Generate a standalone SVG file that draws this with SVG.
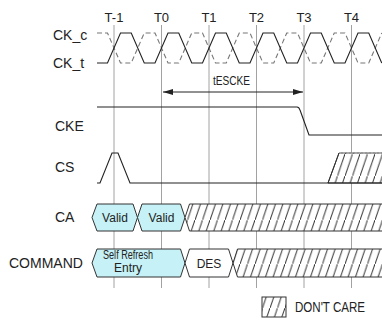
<svg xmlns="http://www.w3.org/2000/svg" width="382" height="320" viewBox="0 0 382 320">
<style>
.lbl{font-family:"Liberation Sans",Arial,sans-serif;font-size:14px;fill:#222}
.tl{font-family:"Liberation Sans",Arial,sans-serif;font-size:13px;fill:#222;text-anchor:middle}
.bx{font-family:"Liberation Sans",Arial,sans-serif;font-size:12px;fill:#222;text-anchor:middle}
.grid{stroke:#8a8a8a;stroke-width:0.8}
.sig{fill:none;stroke:#222;stroke-width:1.1}
.dash{fill:none;stroke:#777;stroke-width:1.1;stroke-dasharray:5,3}
.valid{fill:#c6f1f6;stroke:#333;stroke-width:1}
.white{fill:#fff;stroke:#333;stroke-width:1}
.hatch{fill:url(#h);stroke:#333;stroke-width:1}
</style>
<defs>
<pattern id="h" patternUnits="userSpaceOnUse" width="7.5" height="22">
<rect width="7.5" height="22" fill="#fff"/>
<line x1="0" y1="22" x2="7.5" y2="0" stroke="#333" stroke-width="1"/>
</pattern>
<marker id="ah" markerWidth="10" markerHeight="6" refX="10" refY="3" orient="auto-start-reverse" markerUnits="userSpaceOnUse">
<path d="M0,0 L10,3 L0,6 Z" fill="#222"/>
</marker>
</defs>

<g id="grid">
<line class="grid" x1="114" y1="25" x2="114" y2="288"/>
<line class="grid" x1="161.5" y1="25" x2="161.5" y2="288"/>
<line class="grid" x1="209" y1="25" x2="209" y2="288"/>
<line class="grid" x1="256.5" y1="25" x2="256.5" y2="288"/>
<line class="grid" x1="304" y1="25" x2="304" y2="288"/>
<line class="grid" x1="351.5" y1="25" x2="351.5" y2="288"/>
</g>

<g id="tick-labels">
<text class="tl" x="114" y="22">T-1</text>
<text class="tl" x="161.5" y="22">T0</text>
<text class="tl" x="209" y="22">T1</text>
<text class="tl" x="256.5" y="22">T2</text>
<text class="tl" x="304" y="22">T3</text>
<text class="tl" x="351.5" y="22">T4</text>
</g>

<g id="signal-labels">
<text class="lbl" x="53" y="40">CK_c</text>
<text class="lbl" x="53" y="68">CK_t</text>
<text class="lbl" x="55" y="131">CKE</text>
<text class="lbl" x="55" y="172">CS</text>
<text class="lbl" x="55" y="222">CA</text>
<text class="lbl" x="9" y="268">COMMAND</text>
</g>

<g id="clock">
<path class="dash" d="M97,33 H107.5 L120.5,63 H131.25 L144.25,33 H155 L168,63 H178.75 L191.75,33 H202.5 L215.5,63 H226.25 L239.25,33 H250 L263,63 H273.75 L286.75,33 H297.5 L310.5,63 H321.25 L334.25,33 H345 L358,63 H368.75 L381.75,33"/>
<path class="sig" d="M97,63 H107.5 L120.5,33 H131.25 L144.25,63 H155 L168,33 H178.75 L191.75,63 H202.5 L215.5,33 H226.25 L239.25,63 H250 L263,33 H273.75 L286.75,63 H297.5 L310.5,33 H321.25 L334.25,63 H345 L358,33 H368.75 L381.75,63"/>
</g>

<g id="connectors">
<line x1="163" y1="92" x2="303" y2="92" stroke="#222" stroke-width="1" marker-start="url(#ah)" marker-end="url(#ah)"/>
</g>
<g id="tescke-label">
<text class="bx" x="231.5" y="85" font-size="11" textLength="37" lengthAdjust="spacingAndGlyphs">tESCKE</text>
</g>

<g id="cke">
<path class="sig" d="M97,107 H297 Q299,107 300,110 L309,135 H382"/>
</g>

<g id="cs">
<path class="hatch" d="M328,183 L339,153 H383 V183 Z" stroke="none"/>
<path d="M339,153 H382" stroke="#bbb" stroke-width="1" stroke-dasharray="2,2" fill="none"/>
<path d="M328,183 L339,153" stroke="#333" stroke-width="1" fill="none"/>
<path class="sig" d="M97,183 H100 L112,153 H118 L130,183 H382"/>
</g>

<g id="ca">
<path class="valid" d="M92,217.5 L97,204 H133 L137.5,217.5 L133,231 H97 Z"/>
<text class="bx" x="115" y="222">Valid</text>
<path class="valid" d="M137.5,217.5 L142,204 H180.5 L185,217.5 L180.5,231 H142 Z"/>
<text class="bx" x="161.5" y="222">Valid</text>
<path class="hatch" d="M185,217.5 L189.5,204 H383 V231 H189.5 Z"/>
</g>

<g id="command">
<path class="valid" d="M92,263 L97,249 H180.5 L185,263 L180.5,277 H97 Z"/>
<text class="bx" x="128" y="259" font-size="10.5" textLength="50" lengthAdjust="spacingAndGlyphs">Self Refresh</text>
<text class="bx" x="128" y="272" font-size="10.5">Entry</text>
<path class="white" d="M185,263 L189.5,249 H228.5 L233,263 L228.5,277 H189.5 Z"/>
<text class="bx" x="209" y="268" font-size="11">DES</text>
<path class="hatch" d="M233,263 L237.5,249 H383 V277 H237.5 Z"/>
</g>

<g id="legend">
<rect class="hatch" x="262" y="297" width="24" height="20"/>
<text class="lbl" x="295" y="312" font-size="12" textLength="70" lengthAdjust="spacingAndGlyphs">DON'T CARE</text>
</g>
</svg>
